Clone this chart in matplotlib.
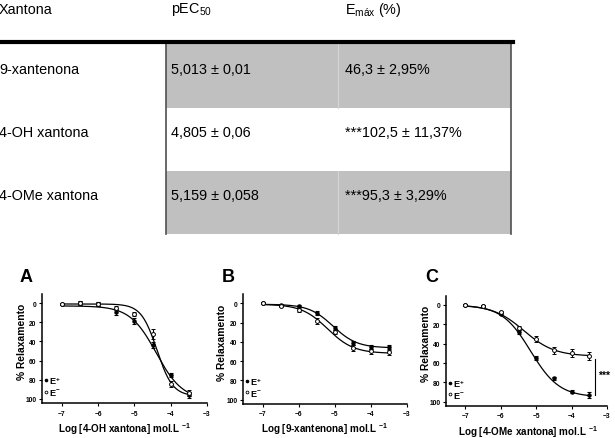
import numpy as np
import matplotlib
matplotlib.use('Agg')
import matplotlib.pyplot as plt
from matplotlib.patches import Rectangle

plt.rcParams['font.family'] = ['Liberation Sans', 'DejaVu Sans']
plt.rcParams['mathtext.fontset'] = 'custom'
plt.rcParams['mathtext.rm'] = 'Liberation Sans'
plt.rcParams['mathtext.bf'] = 'Liberation Sans:bold'

# TABLE DATA
cabecalho = ['Xantona', 'pEC$_\\mathregular{50}$', 'E$_\\mathregular{máx}$ (%)']
compostos = ['9-xantenona', '4-OH xantona', '4-OMe xantona']
pec50_txt = ['5,013 ± 0,01', '4,805 ± 0,06', '5,159 ± 0,058']
emax_txt = ['46,3 ± 2,95%', '***102,5 ± 11,37%', '***95,3 ± 3,29%']

# CURVE DATA
log_conc = [-7, -6.5, -6, -5.5, -5, -4.5, -4, -3.5]

# A - 4-OH xantona
a_com = [1, 0, 1, 9.7, 19, 44, 75, 96]
a_com_err = [1, 2, 2, 3, 3, 3, 2, 3]
a_sem = [1, 0, 1, 5, 11.5, 32, 84, 94]
a_sem_err = [1, 2, 2, 2, 2, 5, 3, 3]
a_com_fit = [3, 101, -4.4, 1.2]     # top, bottom, logEC50, hill
a_sem_fit = [1, 97, -4.38, 2.0]

# B - 9-xantenona
b_com = [0, 1.5, 2.5, 10.5, 25.5, 41, 45, 45.5]
b_com_err = [1, 1, 1, 2, 2, 2, 2, 2]
b_sem = [0, 3, 7, 18.8, 30, 46.5, 50, 51]
b_sem_err = [1, 1, 2, 3, 2, 3, 3, 3]
b_com_fit = [1, 46.3, -5.05, 1.3]
b_sem_fit = [1, 52, -5.2, 1.2]

# C - 4-OMe xantona
c_com = [0, 1.4, 9, 28, 55, 76, 89.5, 93]
c_com_err = [1, 1, 1, 2, 2, 2, 2, 3]
c_sem = [0, 1.4, 7, 24, 35, 47, 50, 52.4]
c_sem_err = [1, 1, 1, 2, 3, 4, 4, 4]
c_com_fit = [0, 95.3, -5.159, 1.07]
c_sem_fit = [0, 53, -5.35, 1.0]

W, H = 615, 439
fig = plt.figure(figsize=(6.15, 4.39), dpi=100)

# DRAW THE TABLE (pixel coordinates)
tab = fig.add_axes([0, 0, 1, 1])
tab.set_xlim(0, W)
tab.set_ylim(H, 0)
tab.axis('off')

linhas_y = [44, 109, 172, 235]
fundo = ['#c0c0c0', 'white', '#c0c0c0']
col_x = [0, 166, 338, 511]
for i in range(3):
    tab.add_patch(Rectangle((col_x[1], linhas_y[i]), col_x[3] - col_x[1],
                            linhas_y[i + 1] - linhas_y[i], color=fundo[i], lw=0))
    if fundo[i] != 'white':
        tab.plot([col_x[2], col_x[2]], [linhas_y[i], linhas_y[i + 1]], color='#d4d4d4', lw=0.8)
tab.plot([col_x[1], col_x[1]], [linhas_y[0], linhas_y[3]], color='#505050', lw=1.2)
tab.plot([col_x[3], col_x[3]], [linhas_y[0], linhas_y[3]], color='#505050', lw=1.2)
tab.plot([0, 513], [43, 43], color='black', lw=3)

txt_x = [-1, 171, 345]
for j, c in enumerate(cabecalho):
    tab.text(txt_x[j], 10, c, fontsize=10.4, va='center', ha='left')
for i in range(3):
    yy = (linhas_y[i] + linhas_y[i + 1]) / 2 - 7
    tab.text(txt_x[0], yy, compostos[i], fontsize=10.4, va='center')
    tab.text(txt_x[1], yy, pec50_txt[i], fontsize=10.4, va='center')
    tab.text(txt_x[2], yy, emax_txt[i], fontsize=10.4, va='center')


def hill(x, p):
    top, bottom, logec, h = p
    return top + (bottom - top) / (1 + 10 ** ((logec - x) * h))


paineis = [
    ('A', '4-OH xantona', [42, 294.9, 207, 404.3], a_com, a_com_err, a_sem, a_sem_err,
     a_com_fit, a_sem_fit, (26.5, 277), (0.5, -0.226), (-0.123, 0.57)),
    ('B', '9-xantenona', [243, 295.1, 406.7, 405.0], b_com, b_com_err, b_sem, b_sem_err,
     b_com_fit, b_sem_fit, (228.5, 278), (0.5, -0.218), (-0.130, 0.567)),
    ('C', '4-OMe xantona', [446, 296.8, 607, 407.0], c_com, c_com_err, c_sem, c_sem_err,
     c_com_fit, c_sem_fit, (431.7, 278), (0.51, -0.227), (-0.126, 0.572)),
]

xs = np.linspace(-7, -3.5, 300)
for (letra, nome, box, com, com_e, sem, sem_e, fcom, fsem, lpos, xl, yl) in paineis:
    x0, y0, x1, y1 = box
    ax = fig.add_axes([x0 / W, 1 - y1 / H, (x1 - x0) / W, (y1 - y0) / H])
    ax.plot(xs, hill(xs, fcom), color='black', lw=0.9)
    ax.plot(xs, hill(xs, fsem), color='black', lw=0.9)
    ax.errorbar(log_conc, com, yerr=com_e, fmt='o', color='black', ms=2.2,
                elinewidth=0.8, capsize=1.7, capthick=0.8)
    ax.errorbar(log_conc, sem, yerr=sem_e, fmt='o', color='black', mfc='white', ms=2.8,
                mew=0.7, elinewidth=0.8, capsize=1.7, capthick=0.8)
    ax.set_xlim(-7.55, -3)
    ax.set_ylim(104.5, -9.5)
    ax.set_xticks([-7, -6, -5, -4, -3])
    ax.set_yticks([0, 20, 40, 60, 80, 100])
    for s in ['top', 'right']:
        ax.spines[s].set_visible(False)
    for s in ['left', 'bottom']:
        ax.spines[s].set_linewidth(1.1)
    ax.tick_params(length=2.5, width=0.8, pad=1.5, labelsize=4.8)
    ax.tick_params(axis='x', pad=2)
    for lab in ax.get_xticklabels() + ax.get_yticklabels():
        lab.set_fontweight('bold')
    ax.set_ylabel('% Relaxamento', fontsize=7.4, fontweight='bold', va='center', ha='center')
    ax.yaxis.set_label_coords(*yl)
    ax.set_xlabel('Log [' + nome + '] mol.L $^\\mathregular{-1}$', fontsize=7.1, fontweight='bold')
    ax.xaxis.set_label_coords(*xl)
    ax.xaxis.label.set_va('center')

    # legend
    tr = ax.get_yaxis_transform()
    ax.plot([0.022], [80.5], 'o', color='black', ms=1.6, transform=tr, clip_on=False)
    ax.plot([0.022], [92.5], 'o', color='black', mfc='white', ms=2.0, mew=0.6,
            transform=tr, clip_on=False)
    ax.text(0.045, 80.5, 'E$^\\mathregular{+}$', transform=tr, fontsize=6.6, fontweight='bold', va='center')
    ax.text(0.045, 93.5, 'E$^\\mathregular{-}$', transform=tr, fontsize=6.6, fontweight='bold', va='center')

    fig.text(lpos[0] / W, 1 - lpos[1] / H, letra, fontsize=13, fontweight='bold',
             ha='center', va='center')

    if letra == 'C':
        ax.plot([-3.34, -3.34], [56, 93], color='black', lw=0.8, clip_on=False)
        ax.text(-3.25, 72, '***', fontsize=7.5, fontweight='bold', va='center', clip_on=False)

fig.savefig('out.png', dpi=100)
